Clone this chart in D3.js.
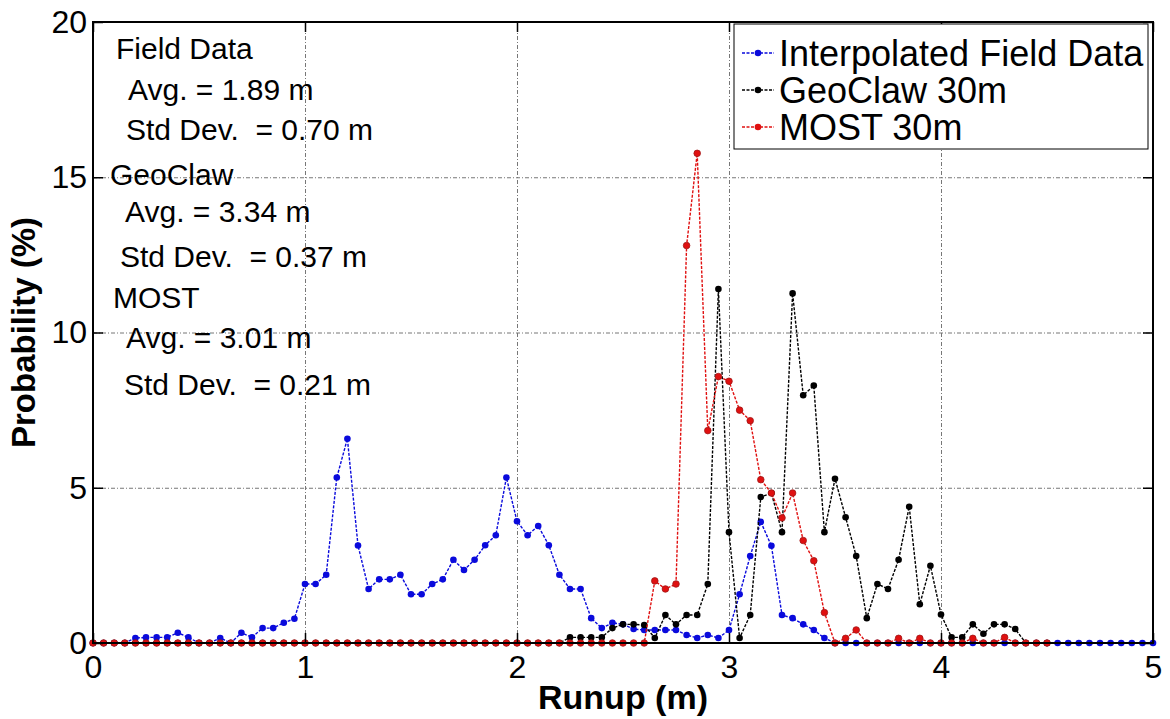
<!DOCTYPE html>
<html>
<head>
<meta charset="utf-8">
<script src="https://cdn.jsdelivr.net/npm/d3@7.9.0/dist/d3.min.js"></script>
<style>
  html, body { margin: 0; padding: 0; background: #fff; }
  svg { display: block; font-family: "Liberation Sans", Arial, sans-serif; }
</style>
</head>
<body>
<svg id="chart" width="1170" height="719"></svg>
<script>
// runup bins (m)
const runupBins = [
  0, 0.05, 0.1, 0.15, 0.2, 0.25, 0.3, 0.35, 0.4, 0.45,
  0.5, 0.55, 0.6, 0.65, 0.7, 0.75, 0.8, 0.85, 0.9, 0.95,
  1, 1.05, 1.1, 1.15, 1.2, 1.25, 1.3, 1.35, 1.4, 1.45,
  1.5, 1.55, 1.6, 1.65, 1.7, 1.75, 1.8, 1.85, 1.9, 1.95,
  2, 2.05, 2.1, 2.15, 2.2, 2.25, 2.3, 2.35, 2.4, 2.45,
  2.5, 2.55, 2.6, 2.65, 2.7, 2.75, 2.8, 2.85, 2.9, 2.95,
  3, 3.05, 3.1, 3.15, 3.2, 3.25, 3.3, 3.35, 3.4, 3.45,
  3.5, 3.55, 3.6, 3.65, 3.7, 3.75, 3.8, 3.85, 3.9, 3.95,
  4, 4.05, 4.1, 4.15, 4.2, 4.25, 4.3, 4.35, 4.4, 4.45,
  4.5, 4.55, 4.6, 4.65, 4.7, 4.75, 4.8, 4.85, 4.9, 4.95,
  5
];

// probability (%) per bin
const fieldData = [
  0, 0, 0, 0, 0.16, 0.18, 0.18, 0.18, 0.33, 0.18,
  0, 0, 0.16, 0, 0.33, 0.18, 0.48, 0.48, 0.65, 0.78,
  1.9, 1.9, 2.2, 5.33, 6.58, 3.14, 1.74, 2.05, 2.05, 2.2,
  1.57, 1.57, 1.9, 2.05, 2.68, 2.35, 2.68, 3.15, 3.47, 5.33,
  3.92, 3.47, 3.77, 3.15, 2.2, 1.74, 1.74, 0.8, 0.48, 0.65,
  0.6, 0.45, 0.42, 0.42, 0.42, 0.42, 0.26, 0.16, 0.26, 0.16,
  0.42, 1.57, 2.8, 3.9, 3.13, 0.9, 0.8, 0.6, 0.42, 0.16,
  0, 0, 0, 0, 0, 0, 0, 0, 0, 0,
  0, 0, 0, 0, 0, 0, 0, 0, 0, 0,
  0, 0, 0, 0, 0, 0, 0, 0, 0, 0,
  0
];

const geoclaw = [
  0, 0, 0, 0, 0, 0, 0, 0, 0, 0,
  0, 0, 0, 0, 0, 0, 0, 0, 0, 0,
  0, 0, 0, 0, 0, 0, 0, 0, 0, 0,
  0, 0, 0, 0, 0, 0, 0, 0, 0, 0,
  0, 0, 0, 0, 0, 0.18, 0.18, 0.18, 0.18, 0.48,
  0.6, 0.6, 0.58, 0.16, 0.9, 0.6, 0.9, 0.9, 1.9, 11.4,
  3.57, 0.16, 0.9, 4.7, 4.83, 3.57, 11.26, 7.98, 8.29, 3.57,
  5.29, 4.05, 2.8, 0.8, 1.9, 1.74, 2.68, 4.39, 1.25, 2.49,
  0.92, 0.18, 0.18, 0.6, 0.3, 0.6, 0.6, 0.45, 0, 0,
  0
];

const most = [
  0, 0, 0, 0, 0, 0, 0, 0, 0, 0,
  0, 0, 0, 0, 0, 0, 0, 0, 0, 0,
  0, 0, 0, 0, 0, 0, 0, 0, 0, 0,
  0, 0, 0, 0, 0, 0, 0, 0, 0, 0,
  0, 0, 0, 0, 0, 0, 0, 0, 0, 0,
  0, 0, 0, 2.0, 1.74, 1.9, 12.8, 15.77, 6.84, 8.58,
  8.43, 7.5, 7.16, 5.26, 4.83, 4.03, 4.83, 3.3, 2.65, 0.98,
  0, 0.15, 0.42, 0, 0, 0, 0.15, 0, 0.15, 0,
  0, 0, 0, 0.15, 0, 0, 0.18, 0, 0, 0,
  0
];

const seriesNames = ['Interpolated Field Data', 'GeoClaw 30m', 'MOST 30m'];
const seriesColors = ['#0a0adc', '#000000', '#e01010'];
const seriesValues = [fieldData, geoclaw, most];

const xTicks = [0, 1, 2, 3, 4, 5];
const yTicks = [0, 5, 10, 15, 20];

const statsLines = [
  'Field Data',
  'Avg. = 1.89 m',
  'Std Dev.  = 0.70 m',
  'GeoClaw',
  'Avg. = 3.34 m',
  'Std Dev.  = 0.37 m',
  'MOST',
  'Avg. = 3.01 m',
  'Std Dev.  = 0.21 m'
];
const statsX = [116, 128, 126, 110, 125, 120, 113, 126, 124];
const statsY = [59, 100, 140, 185, 222, 267, 308, 348, 395];

const margin = { top: 22, right: 17, bottom: 76, left: 93 };
const width = 1170 - margin.left - margin.right;
const height = 719 - margin.top - margin.bottom;

const svg = d3.select('#chart');
const g = svg.append('g').attr('transform', `translate(${margin.left},${margin.top})`);

const x = d3.scaleLinear().domain([0, 5]).range([0, width]);
const y = d3.scaleLinear().domain([0, 20]).range([height, 0]);

// grid
g.append('g')
  .attr('transform', `translate(0,${height})`)
  .call(d3.axisBottom(x).tickValues([1, 2, 3, 4]).tickSize(-height).tickFormat(''))
  .call(a => a.select('.domain').remove())
  .selectAll('line')
  .attr('stroke', '#777').attr('stroke-width', 1).attr('stroke-dasharray', '4,2,1,2');

g.append('g')
  .call(d3.axisLeft(y).tickValues([5, 10, 15]).tickSize(-width).tickFormat(''))
  .call(a => a.select('.domain').remove())
  .selectAll('line')
  .attr('stroke', '#777').attr('stroke-width', 1).attr('stroke-dasharray', '4,2,1,2');

// series
const line = d3.line()
  .x(d => x(d[0]))
  .y(d => y(d[1]));

seriesValues.forEach((vals, i) => {
  const pts = vals.map((v, k) => [runupBins[k], v]);
  const s = g.append('g');
  s.append('path')
    .datum(pts)
    .attr('d', line)
    .attr('fill', 'none')
    .attr('stroke', seriesColors[i])
    .attr('stroke-width', 1.4)
    .attr('stroke-dasharray', '3,1.5');
  s.selectAll('circle')
    .data(pts)
    .join('circle')
    .attr('cx', d => x(d[0]))
    .attr('cy', d => y(d[1]))
    .attr('r', 3.3)
    .attr('fill', seriesColors[i])
    .attr('stroke', i === 2 ? '#a01818' : 'none')
    .attr('stroke-width', 0.8);
});

// axes with inward ticks, mirrored
const axisStyle = a => {
  a.select('.domain').remove();
  a.selectAll('line').attr('stroke', '#000').attr('stroke-width', 1.5);
  a.selectAll('text').attr('font-size', 32).attr('fill', '#000')
    .style('font-family', '"Liberation Sans", Arial, sans-serif');
};

g.append('g')
  .attr('transform', `translate(0,${height})`)
  .call(d3.axisBottom(x).tickValues(xTicks).tickSize(-10).tickPadding(12).tickFormat(d3.format('d')))
  .call(axisStyle);

g.append('g')
  .call(d3.axisTop(x).tickValues(xTicks).tickSize(-10).tickFormat(''))
  .call(axisStyle);

g.append('g')
  .call(d3.axisLeft(y).tickValues(yTicks).tickSize(-10).tickPadding(6).tickFormat(d3.format('d')))
  .call(axisStyle);

g.append('g')
  .attr('transform', `translate(${width},0)`)
  .call(d3.axisRight(y).tickValues(yTicks).tickSize(-10).tickFormat(''))
  .call(axisStyle);

g.append('rect')
  .attr('width', width).attr('height', height)
  .attr('fill', 'none').attr('stroke', '#000').attr('stroke-width', 2);

// stats annotation
g.append('g')
  .selectAll('text')
  .data(statsLines)
  .join('text')
  .attr('x', (d, i) => statsX[i] - margin.left)
  .attr('y', (d, i) => statsY[i] - margin.top)
  .attr('font-size', 30)
  .style('white-space', 'pre')
  .text(d => d);

// legend
const lg = svg.append('g');
lg.append('rect')
  .attr('x', 734).attr('y', 24).attr('width', 414).attr('height', 125)
  .attr('fill', '#fff').attr('stroke', '#000').attr('stroke-width', 1);

seriesNames.forEach((name, i) => {
  const yy = 53 + i * 37;
  lg.append('line')
    .attr('x1', 742).attr('x2', 774).attr('y1', yy).attr('y2', yy)
    .attr('stroke', seriesColors[i]).attr('stroke-width', 1.3).attr('stroke-dasharray', '3,1.5');
  lg.append('circle').attr('cx', 758).attr('cy', yy).attr('r', 3.3).attr('fill', seriesColors[i]);
  lg.append('text')
    .attr('x', 779).attr('y', yy + 13)
    .attr('font-size', 36)
    .text(name);
});

// axis titles
svg.append('text')
  .attr('x', margin.left + width / 2).attr('y', 709)
  .attr('text-anchor', 'middle')
  .attr('font-size', 34).attr('font-weight', 'bold')
  .text('Runup (m)');

svg.append('text')
  .attr('transform', `translate(35,${margin.top + height / 2}) rotate(-90)`)
  .attr('text-anchor', 'middle')
  .attr('font-size', 33).attr('font-weight', 'bold')
  .text('Probability (%)');
</script>
</body>
</html>
